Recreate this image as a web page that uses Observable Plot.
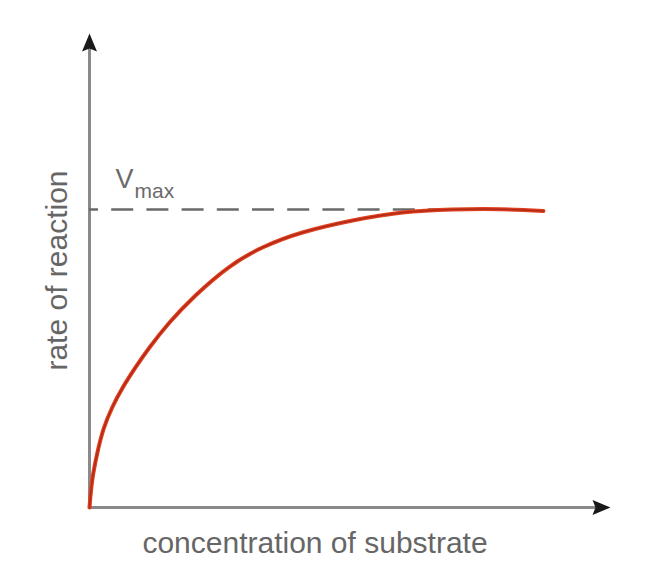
<!DOCTYPE html>
<html>
<head>
<meta charset="utf-8">
<script src="https://cdn.jsdelivr.net/npm/d3@7"></script>
<script src="https://cdn.jsdelivr.net/npm/@observablehq/plot@0.6"></script>
<style>
  html, body { margin: 0; padding: 0; background: #fff; }
  #chart svg { display: block; }
</style>
</head>
<body>
<div id="chart"></div>
<script>
// Substrate concentration (arbitrary units, 0–100 along the axis)
const concentration = [0, 0.52, 1.48, 2.74, 4.36, 6.28, 8.83, 11.52, 15.36, 20.35, 26.68, 33.21, 40.88, 50.48, 60.08, 69.67, 78.89, 87.14];
// Rate of reaction (arbitrary units, 0–100 along the axis)
const rate = [0, 5.70, 11.39, 16.67, 21.10, 25.11, 29.54, 33.76, 39.03, 44.73, 50.63, 54.85, 58.02, 60.55, 62.24, 62.87, 62.93, 62.55];
const vmax = 62.87;
const vmaxReach = 75.0;
const axisMax = 100;
const xLabel = "concentration of substrate";
const yLabel = "rate of reaction";

const curve = concentration.map((c, i) => ({x: c, y: rate[i]}));

// filled arrowhead symbol (tip at the origin, pointing up)
const arrowHead = {
  draw(ctx) {
    ctx.moveTo(0, 0);
    ctx.lineTo(7.5, 18);
    ctx.lineTo(0, 15);
    ctx.lineTo(-7.5, 18);
    ctx.closePath();
  }
};

const font = "'Liberation Sans', Arial, Helvetica, sans-serif";

const chart = Plot.plot({
  width: 648,
  height: 576,
  marginLeft: 89,
  marginRight: 38,
  marginTop: 33,
  marginBottom: 69,
  x: {domain: [0, axisMax], axis: null},
  y: {domain: [0, axisMax], axis: null},
  style: {fontFamily: font, background: "#fff"},
  marks: [
    // axes
    Plot.ruleX([0], {y1: 0, y2: axisMax - 3, stroke: "#8a8a8a", strokeWidth: 3}),
    Plot.ruleY([0], {x1: 0, x2: axisMax - 2.5, stroke: "#8a8a8a", strokeWidth: 3}),
    Plot.dot([{x: 0, y: axisMax}], {x: "x", y: "y", symbol: arrowHead, fill: "#1a1a1a", stroke: "none", r: 5}),
    Plot.dot([{x: axisMax, y: 0}], {x: "x", y: "y", symbol: arrowHead, fill: "#1a1a1a", stroke: "none", r: 5, rotate: 90}),
    // Vmax dashed line
    Plot.ruleY([vmax], {x1: 0, x2: vmaxReach, stroke: "#6a6a6a", strokeWidth: 2.5, strokeDasharray: "22,13.2", strokeDashoffset: 13}),
    // curve
    Plot.line(curve, {x: "x", y: "y", curve: "natural", stroke: "#e0401e", strokeWidth: 4}),
    Plot.line(curve, {x: "x", y: "y", curve: "natural", stroke: "#b02a18", strokeWidth: 1.5}),
    // Vmax label
    Plot.text(["V"], {x: 5, y: vmax, dy: -21, dx: 0, text: d => d, textAnchor: "start", lineAnchor: "bottom", fontSize: 27, fill: "#6a6a6a", fontFamily: font}),
    Plot.text(["max"], {x: 5, y: vmax, dy: -11, dx: 19, text: d => d, textAnchor: "start", lineAnchor: "bottom", fontSize: 21, fill: "#6a6a6a", fontFamily: font}),
    // axis labels
    Plot.text([xLabel], {frameAnchor: "bottom", dy: 45, dx: -35, text: d => d, textAnchor: "middle", lineAnchor: "bottom", fontSize: 30, fill: "#666", fontFamily: font}),
    Plot.text([yLabel], {frameAnchor: "left", dx: -23, dy: 0, rotate: -90, text: d => d, textAnchor: "middle", lineAnchor: "bottom", fontSize: 30, fill: "#666", fontFamily: font})
  ]
});

document.getElementById("chart").appendChild(chart);
</script>
</body>
</html>
